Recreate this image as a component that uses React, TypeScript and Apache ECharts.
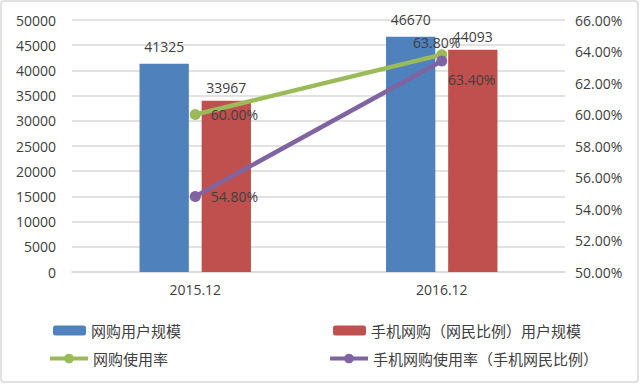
import React, { useEffect, useRef } from "react";
import * as echarts from "echarts";

const categories = ["2015.12", "2016.12"];
const onlineShoppers = [41325, 46670];
const mobileShoppers = [33967, 44093];
const onlineRate = [60.0, 63.8];
const mobileRate = [54.8, 63.4];

const names = [
  "网购用户规模",
  "手机网购（网民比例）用户规模",
  "网购使用率",
  "手机网购使用率（手机网民比例）",
];

const colors = ["#4f81bd", "#c0504d", "#9bbb59", "#8064a2"];
const textColor = "#404040";
const font = "'Open Sans', 'Noto Sans CJK SC', sans-serif";

export default function App() {
  const ref = useRef<HTMLDivElement>(null);
  useEffect(() => {
    if (!ref.current) return;
    const chart = echarts.init(ref.current, null, { renderer: "svg" });
    const legendBase = {
      itemWidth: 33,
      itemHeight: 10,
      itemGap: 5,
      textStyle: { color: textColor, fontSize: 15, fontFamily: font },
    };
    const lineLegend = {
      ...legendBase,
      itemWidth: 38,
      itemHeight: 12,
      lineStyle: { width: 4 },
    };
    chart.setOption({
      animation: false,
      textStyle: { fontFamily: font },
      color: colors,
      graphic: [
        {
          type: "rect",
          shape: { x: 1, y: 1, width: 637, height: 381, r: 3 },
          style: { fill: "none", stroke: "#d9d9d9", lineWidth: 1.5 },
          silent: true,
        },
      ],
      grid: { left: 72, right: 75, top: 20, height: 252 },
      legend: [
        { ...legendBase, left: 48, top: 318, data: [names[0]] },
        { ...legendBase, left: 328, top: 318, data: [names[1]] },
        { ...lineLegend, left: 43, top: 346, data: [names[2]] },
        { ...lineLegend, left: 323, top: 346, data: [names[3]] },
      ],
      xAxis: {
        type: "category",
        data: categories,
        axisLine: { lineStyle: { color: "#d9d9d9", width: 1.5 } },
        axisTick: { show: false },
        axisLabel: { color: textColor, fontSize: 14, margin: 10 },
      },
      yAxis: [
        {
          type: "value",
          min: 0,
          max: 50000,
          interval: 5000,
          axisLine: { show: false },
          axisTick: { show: false },
          splitLine: { lineStyle: { color: "#d9d9d9", width: 1.5 } },
          axisLabel: {
            color: textColor,
            fontSize: 14,
            margin: 16,
            formatter: (v: number) => String(v),
          },
        },
        {
          type: "value",
          min: 50,
          max: 66,
          interval: 2,
          position: "right",
          axisLine: { show: false },
          axisTick: { show: false },
          splitLine: { show: false },
          axisLabel: {
            color: textColor,
            fontSize: 14,
            margin: 10,
            formatter: (v: number) => v.toFixed(2) + "%",
          },
        },
      ],
      series: [
        {
          name: names[0],
          type: "bar",
          data: onlineShoppers,
          barWidth: "20%",
          barGap: "26%",
          itemStyle: { color: colors[0] },
          label: {
            show: true,
            position: "top",
            distance: 10,
            color: textColor,
            fontSize: 14,
          },
        },
        {
          name: names[1],
          type: "bar",
          data: mobileShoppers,
          barWidth: "20%",
          itemStyle: { color: colors[1] },
          label: {
            show: true,
            position: "top",
            distance: 6,
            color: textColor,
            fontSize: 14,
          },
        },
        {
          name: names[2],
          type: "line",
          yAxisIndex: 1,
          data: [
            { value: onlineRate[0], label: { position: "right", distance: 10 } },
            { value: onlineRate[1], label: { position: "top", distance: 2, offset: [-5, 2] } },
          ],
          symbol: "circle",
          symbolSize: 11,
          lineStyle: { width: 4.5, color: colors[2] },
          itemStyle: { color: colors[2] },
          label: {
            show: true,
            color: textColor,
            fontSize: 14,
            formatter: (p: any) => Number(p.value).toFixed(2) + "%",
          },
        },
        {
          name: names[3],
          type: "line",
          yAxisIndex: 1,
          data: [
            { value: mobileRate[0], label: { position: "right", distance: 10 } },
            { value: mobileRate[1], label: { position: "bottom", distance: 6, offset: [30, 0] } },
          ],
          symbol: "circle",
          symbolSize: 11,
          lineStyle: { width: 4.5, color: colors[3] },
          itemStyle: { color: colors[3] },
          label: {
            show: true,
            color: textColor,
            fontSize: 14,
            formatter: (p: any) => Number(p.value).toFixed(2) + "%",
          },
        },
      ],
    });
    return () => chart.dispose();
  }, []);
  return (
    <div
      ref={ref}
      style={{ position: "fixed", left: 0, top: 0, width: 640, height: 384, background: "#fff" }}
    />
  );
}
